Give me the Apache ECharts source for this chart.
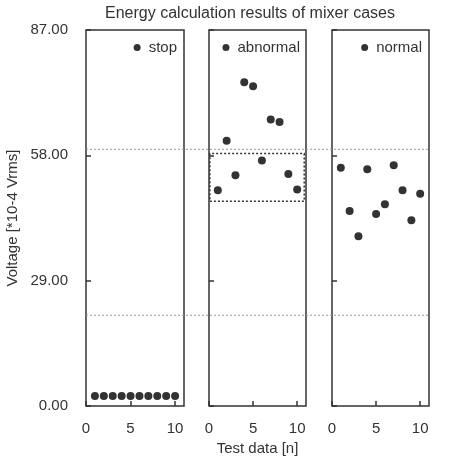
<!DOCTYPE html>
<html>
<head>
<meta charset="utf-8">
<script src="https://cdn.jsdelivr.net/npm/echarts@6/dist/echarts.min.js"></script>
<style>
  html, body { margin: 0; padding: 0; background: #fff; }
  #chart { width: 451px; height: 466px; }
</style>
</head>
<body>
<div id="chart"></div>
<script>
// 测试编号 1..10
var testIds = [1, 2, 3, 4, 5, 6, 7, 8, 9, 10]
var caseNames = ['stop', 'abnormal', 'normal']

// 各工况电压值 (*10-4 Vrms)
var stopValues = [2.3, 2.3, 2.3, 2.3, 2.3, 2.3, 2.3, 2.3, 2.3, 2.3]
var abnormalValues = [49.9, 61.4, 53.4, 74.9, 74.0, 56.8, 66.3, 65.7, 53.7, 50.1]
var normalValues = [55.1, 45.1, 39.3, 54.8, 44.4, 46.7, 55.7, 49.9, 43.0, 49.1]

// 阈值线 和 异常区域框
var thresholds = [59.4, 21.0]
var abnRectX = [0.1, 10.8]
var abnRectY = [47.4, 58.4]

var yTicks = [0, 29, 58, 87]
var xTicks = [0, 5, 10]

var font = 'Liberation Sans, Arial, sans-serif'
var lineColor = '#333'

function pairs (values) {
  var out = []
  for (let i = 0; i < values.length; i++) {
    out.push([testIds[i], values[i]])
  }
  return out
}

var grids = [
  { left: 86, right: 267, top: 30, bottom: 60 },
  { left: 209, right: 145, top: 30, bottom: 60 },
  { left: 332, right: 22, top: 30, bottom: 60 }
]

var xAxes = []
var yAxes = []
for (let i = 0; i < 3; i++) {
  grids[i].show = true
  grids[i].borderColor = lineColor
  grids[i].borderWidth = 1.5
  xAxes.push({
    type: 'value',
    gridIndex: i,
    min: xTicks[0],
    max: 11,
    interval: 5,
    splitLine: { show: false },
    axisLine: { show: false },
    axisTick: { show: true, inside: true, length: 5, lineStyle: { color: lineColor, width: 1.5 } },
    axisLabel: {
      color: '#333',
      fontSize: 15,
      fontFamily: font,
      margin: 15,
      showMaxLabel: false,
      formatter: function (v) { return xTicks.indexOf(v) >= 0 ? String(v) : '' }
    },
    name: i === 1 ? 'Test data [n]' : '',
    nameLocation: 'middle',
    nameGap: 34,
    nameTextStyle: { color: '#333', fontSize: 15, fontFamily: font }
  })
  yAxes.push({
    type: 'value',
    gridIndex: i,
    min: yTicks[0],
    max: yTicks[yTicks.length - 1],
    interval: 29,
    splitLine: { show: false },
    axisLine: { show: false },
    axisTick: { show: true, inside: true, length: 5, lineStyle: { color: lineColor, width: 1.5 } },
    axisLabel: {
      show: i === 0,
      color: '#333',
      fontSize: 15,
      fontFamily: font,
      margin: 18,
      padding: [3, 0, 0, 0],
      formatter: function (v) { return v.toFixed(2) }
    },
    name: i === 0 ? 'Voltage [*10-4 Vrms]' : '',
    nameLocation: 'middle',
    nameGap: 66,
    nameTextStyle: { color: '#333', fontSize: 15, fontFamily: font }
  })
}

// 阈值线所用的覆盖层坐标系 (横跨三个面板)
grids.push({ left: 86, right: 22, top: 30, bottom: 60, show: false })
xAxes.push({ type: 'value', gridIndex: 3, min: 0, max: 1, show: false })
yAxes.push({ type: 'value', gridIndex: 3, min: 0, max: 87, show: false })

var series = []
var allValues = [stopValues, abnormalValues, normalValues]
for (let i = 0; i < 3; i++) {
  var s = {
    name: caseNames[i],
    type: 'scatter',
    xAxisIndex: i,
    yAxisIndex: i,
    symbolSize: 8,
    itemStyle: { color: '#333', opacity: 1 },
    data: pairs(allValues[i])
  }
  if (i === 1) {
    s.markArea = {
      silent: true,
      itemStyle: {
        color: 'rgba(0,0,0,0)',
        borderColor: '#333',
        borderWidth: 1.5,
        borderType: [2, 2]
      },
      data: [[{ xAxis: abnRectX[0], yAxis: abnRectY[0] }, { xAxis: abnRectX[1], yAxis: abnRectY[1] }]]
    }
  }
  series.push(s)
}
for (let k = 0; k < thresholds.length; k++) {
  series.push({
    type: 'line',
    xAxisIndex: 3,
    yAxisIndex: 3,
    symbol: 'none',
    silent: true,
    lineStyle: { color: '#999', width: 1, type: [2, 2] },
    data: [[0, thresholds[k]], [1, thresholds[k]]]
  })
}

var legendRights = [274, 151, 29]
var legends = []
for (let i = 0; i < 3; i++) {
  legends.push({
    data: [caseNames[i]],
    right: legendRights[i],
    top: 40,
    icon: 'circle',
    itemWidth: 7,
    itemHeight: 7,
    itemGap: 4,
    padding: 0,
    selectedMode: false,
    itemStyle: { color: '#333', opacity: 1 },
    textStyle: { color: '#333', fontSize: 15, fontFamily: font, padding: [0, 0, 0, 3] }
  })
}

var chart = echarts.init(document.getElementById('chart'))
chart.setOption({
  animation: false,
  backgroundColor: '#fff',
  title: {
    text: 'Energy calculation results of mixer cases',
    left: 245,
    textAlign: 'center',
    top: 1,
    textStyle: { color: '#333', fontSize: 16, fontWeight: 'normal', fontFamily: font }
  },
  legend: legends,
  grid: grids,
  xAxis: xAxes,
  yAxis: yAxes,
  series: series
})
</script>
</body>
</html>
